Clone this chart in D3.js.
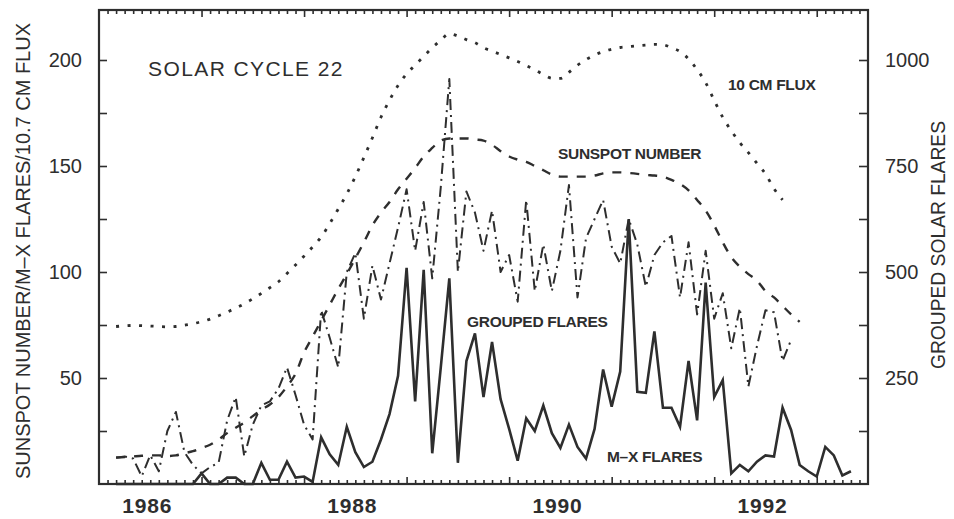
<!DOCTYPE html>
<html><head><meta charset="utf-8">
<script src="https://cdn.jsdelivr.net/npm/d3@7"></script>
<style>
body{margin:0;background:#fff}
svg{display:block;font-family:"Liberation Sans",Arial,Helvetica,sans-serif}
</style>
</head><body>
<svg id="chart" width="954" height="519"></svg>
<script>
// ---- data (monthly, first value = March 1986) ----
const startYear = 1986;
const startMonth = 2; // 0-based month index of first value

// Sunspot number (smoothed) – left axis
const sunspot = [12.5,12.7,13,13.3,13.5,13.5,13.2,13.5,14.5,15.5,
  17,18.5,21,24,26.5,29,32,35,37.5,41,
  46,52,62,69.5,77,84.5,92,99,106.5,114,
  122,128,133,139,144,149,154.5,158.5,162,163,
  163,163,162.5,162,160,157,154.5,153,152,150,
  148,146,145,145,145,145,145.5,146.5,147,147,
  146.7,146.3,145.8,145.5,145,143.5,141.5,138.5,134,129,
  122,114,107,102.5,99,96,91,88,84,80,76.5];

// 10.7 cm flux – left axis
const flux = [74.3,74.6,74.8,74.7,74.5,74.3,74.1,74.3,74.9,75.6,
  76.6,77.8,79.4,81.1,83,85,87.4,89.9,92.6,95.4,
  99.3,103.3,107.5,111.8,116.5,122.8,129.7,136.8,145,154,
  163.3,173,181,188,193.5,197.6,201.7,205.8,209.3,212.4,
  211.3,209.6,208.2,205.8,204.2,202.6,201,199.3,197.4,195.4,
  193.2,191.4,191.3,194.2,197.5,200.2,202.3,204,205.1,205.9,
  206.3,206.7,207,207.4,207.2,205.8,204,200.5,195.5,189.3,
  181,173,166.6,161,156.3,151.3,146.3,139.3,134];

// Grouped solar flares – right axis
const groupedFlares = [62,65,60,18,68,30,125,170,75,45,
  25,40,50,150,205,65,140,185,195,225,
  275,210,140,105,410,345,275,500,545,390,
  515,435,520,605,695,550,665,485,700,955,
  500,690,640,550,645,500,540,430,670,455,
  565,455,550,705,440,580,625,670,560,520,
  625,565,465,540,570,585,440,570,400,550,
  390,450,320,415,230,325,410,405,290,340];

// M-X flares – left axis
const mxFlares = [0,0,0,0,0,0,0,0,0,0,
  5,0,0,3,3,0,0,10,2,2,
  10.5,3,3.5,1,22,14,9,27,15,8,
  10.5,21,33,51,102,39,101,14.5,55,97,
  10,58,71,41,67,40,26,11,31,25,
  37,24,17,28,17.5,12,26,54,36.5,53,
  125,43.5,43,72,36,36,27,58,30,95,
  41,49,5,9,6,10.5,13.5,13,36,25.5,
  9,6,3.5,17.5,13.5,4,6];

const xLabelYears = [1986, 1988, 1990, 1992];
const leftTickValues = [25,50,75,100,125,150,175,200];
const leftLabelValues = [50,100,150,200];
const rightTickValues = [125,250,375,500,625,750,875,1000];
const rightLabelValues = [250,500,750,1000];

// ---- layout ----
const svg = d3.select("#chart");
const L = 99, R = 868, T = 10, B = 484;
const ink = "#2e2e2e";
const x = d3.scaleLinear().domain([1986, 1993.5]).range([L, R]);
const yL = d3.scaleLinear().domain([0, 200]).range([B, 60]);
const yR = d3.scaleLinear().domain([0, 1000]).range([B, 60]);
const dateOf = i => startYear + (startMonth + i) / 12;

svg.append("rect").attr("width",954).attr("height",519).attr("fill","#fff");

// ---- axes ----
const monthTicks = d3.range(1, 90).map(m => 1986 + m/12).filter((v,i) => (i+1) % 12 !== 0);
const yearTicks = d3.range(1987, 1994);

function styleAxis(g){
  g.select(".domain").remove();
  g.selectAll("line").attr("stroke", ink).attr("stroke-width", 1.6);
  g.selectAll("text").attr("fill", ink);
}

svg.append("g").attr("transform",`translate(0,${B})`)
  .call(d3.axisBottom(x).tickValues(monthTicks).tickSize(-4).tickFormat(""))
  .call(styleAxis);
svg.append("g").attr("transform",`translate(0,${B})`)
  .call(d3.axisBottom(x).tickValues(yearTicks).tickSize(-7).tickFormat(""))
  .call(styleAxis);
svg.append("g").attr("transform",`translate(0,${T})`)
  .call(d3.axisTop(x).tickValues(monthTicks).tickSize(-4).tickFormat(""))
  .call(styleAxis);
svg.append("g").attr("transform",`translate(0,${T})`)
  .call(d3.axisTop(x).tickValues(yearTicks).tickSize(-7).tickFormat(""))
  .call(styleAxis);

svg.append("g").attr("transform",`translate(${L},0)`)
  .call(d3.axisLeft(yL).tickValues(leftTickValues).tickSize(-8).tickPadding(17)
    .tickFormat(d => leftLabelValues.includes(d) ? d : ""))
  .call(styleAxis)
  .call(g => g.selectAll("text").attr("font-size", 20).attr("font-family","Liberation Sans,Arial,sans-serif"));

svg.append("g").attr("transform",`translate(${R},0)`)
  .call(d3.axisRight(yR).tickValues(rightTickValues).tickSize(-9).tickPadding(17)
    .tickFormat(d => rightLabelValues.includes(d) ? d : ""))
  .call(styleAxis)
  .call(g => g.selectAll("text").attr("font-size", 20).attr("font-family","Liberation Sans,Arial,sans-serif"));

// x labels (centred in year)
svg.append("g").selectAll("text").data(xLabelYears).join("text")
  .attr("x", d => x(d + 0.5) - 3).attr("y", 513)
  .attr("text-anchor","middle").attr("font-size", 21).attr("font-weight","bold")
  .attr("letter-spacing", 0.8).attr("fill", ink).text(d => d);

// frame
svg.append("rect").attr("x",L).attr("y",T).attr("width",R-L).attr("height",B-T)
  .attr("fill","none").attr("stroke",ink).attr("stroke-width",2.2);

// axis titles
svg.append("text").attr("transform","translate(30,251) rotate(-90)")
  .attr("text-anchor","middle")
  .attr("font-size",21).attr("fill",ink)
  .attr("textLength",456).attr("lengthAdjust","spacingAndGlyphs")
  .text("SUNSPOT NUMBER/M\u2013X FLARES/10.7 CM FLUX");
svg.append("text").attr("transform","translate(945,245) rotate(-90)")
  .attr("text-anchor","middle")
  .attr("font-size",21).attr("fill",ink)
  .attr("textLength",248).attr("lengthAdjust","spacingAndGlyphs")
  .text("GROUPED SOLAR FLARES");

// ---- series ----
const lineL = d3.line().x((d,i) => x(dateOf(i))).y(d => yL(d));
const lineR = d3.line().x((d,i) => x(dateOf(i))).y(d => yR(d));
const smoothL = d3.line().x((d,i) => x(dateOf(i))).y(d => yL(d)).curve(d3.curveMonotoneX);

svg.append("path").datum(flux).attr("d", smoothL)
  .attr("fill","none").attr("stroke",ink).attr("stroke-width",2.8)
  .attr("stroke-dasharray","3,8.5");

svg.append("path").datum(sunspot).attr("d", smoothL)
  .attr("fill","none").attr("stroke",ink).attr("stroke-width",2.4)
  .attr("stroke-dasharray","9,9");

svg.append("path").datum(groupedFlares).attr("d", lineR)
  .attr("fill","none").attr("stroke",ink).attr("stroke-width",2)
  .attr("stroke-linejoin","round")
  .attr("stroke-dasharray","11,5,2,5");

svg.append("path").datum(mxFlares).attr("d", lineL)
  .attr("fill","none").attr("stroke",ink).attr("stroke-width",2.6)
  .attr("stroke-linejoin","miter");

// ---- in-plot labels ----
svg.append("text").attr("x",148).attr("y",76).attr("font-size",21)
  .attr("letter-spacing",1.4).attr("fill",ink).text("SOLAR CYCLE 22");
const lab = [
  {t:"10 CM FLUX", x:728, y:90},
  {t:"SUNSPOT NUMBER", x:558, y:159},
  {t:"GROUPED FLARES", x:467, y:327},
  {t:"M\u2013X FLARES", x:607, y:462}
];
svg.append("g").selectAll("text").data(lab).join("text")
  .attr("x", d => d.x).attr("y", d => d.y)
  .attr("font-size",15.5).attr("font-weight","bold").attr("fill",ink)
  .attr("letter-spacing",-0.3).text(d => d.t);
</script>
</body></html>
